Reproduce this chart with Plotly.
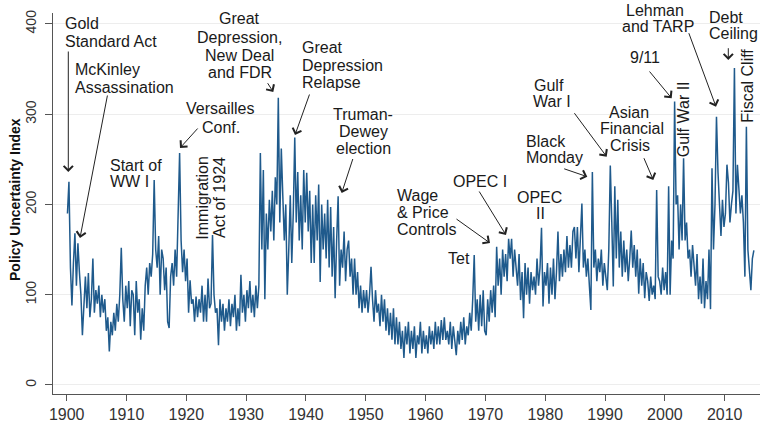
import plotly.graph_objects as go

# Quarterly readings of the policy uncertainty index (4 values per year)
epu_1900s = [190, 225, 130, 88, 135, 168, 110, 157, 125, 100, 55, 95, 120, 85, 124, 75,
             95, 140, 80, 105, 90, 110, 75, 100, 80, 95, 60, 75, 37, 70, 55, 80,
             60, 90, 70, 100, 152, 95, 70, 110]
epu_1910s = [85, 115, 65, 105, 100, 55, 115, 80, 95, 50, 85, 60, 110, 130, 100, 135,
             120, 145, 227, 150, 130, 165, 100, 150, 140, 105, 130, 70, 63, 120, 135, 110,
             150, 120, 175, 257, 160, 125, 150, 115]
epu_1920s = [140, 80, 116, 90, 95, 70, 98, 75, 95, 80, 110, 70, 100, 70, 118, 85,
             90, 166, 100, 80, 85, 44, 95, 70, 90, 60, 85, 70, 95, 65, 90, 75,
             100, 60, 85, 65, 122, 80, 100, 70]
epu_1930s = [105, 85, 115, 80, 100, 75, 110, 85, 110, 257, 150, 238, 95, 190, 150, 205,
             170, 215, 160, 230, 200, 318, 180, 262, 210, 160, 200, 100, 150, 210, 135, 190,
             274, 180, 236, 160, 210, 150, 238, 180]
epu_1940s = [235, 170, 215, 135, 200, 135, 210, 160, 222, 114, 200, 150, 190, 140, 205, 130,
             197, 120, 175, 96, 160, 209, 110, 150, 130, 170, 115, 150, 160, 120, 140, 100,
             140, 100, 125, 85, 110, 80, 105, 85]
epu_1950s = [105, 80, 100, 131, 95, 70, 105, 80, 90, 65, 100, 70, 95, 60, 85, 55,
             80, 50, 85, 45, 75, 45, 70, 40, 60, 30, 65, 45, 70, 35, 60, 40,
             65, 30, 55, 45, 70, 35, 60, 40]
epu_1960s = [55, 35, 65, 45, 60, 40, 70, 45, 65, 45, 72, 50, 75, 50, 60, 45,
             70, 40, 65, 50, 33, 60, 45, 70, 50, 75, 45, 65, 55, 80, 60, 95,
             144, 70, 95, 60, 100, 65, 105, 60]
epu_1970s = [55, 95, 70, 105, 80, 110, 75, 153, 110, 140, 100, 150, 120, 145, 115, 162,
             140, 162, 120, 150, 130, 110, 145, 94, 125, 74, 135, 100, 130, 90, 125, 105,
             120, 100, 140, 110, 130, 174, 87, 125]
epu_1980s = [110, 135, 90, 130, 100, 140, 95, 125, 170, 115, 145, 120, 150, 125, 165, 130,
             155, 130, 170, 175, 140, 175, 125, 160, 201, 130, 150, 120, 140, 110, 83, 236,
             130, 150, 115, 140, 125, 150, 110, 135]
epu_1990s = [120, 105, 150, 243, 180, 109, 220, 140, 205, 130, 170, 120, 160, 125, 150, 115,
             140, 171, 130, 155, 120, 150, 101, 140, 110, 135, 96, 125, 115, 93, 120, 100,
             110, 95, 216, 120, 115, 100, 130, 105]
epu_2000s = [125, 100, 220, 100, 160, 140, 314, 200, 210, 150, 200, 160, 251, 160, 180, 140,
             150, 120, 155, 130, 110, 145, 95, 120, 90, 140, 85, 115, 95, 150, 84, 240,
             150, 200, 297, 236, 190, 165, 205, 175]
epu_2010s = [190, 244, 224, 180, 200, 215, 351, 190, 244, 216, 190, 210, 180, 120, 286, 150,
             130, 105, 140, 149]

x_tick_years = [1900, 1910, 1920, 1930, 1940, 1950, 1960, 1970, 1980, 1990, 2000, 2010]
y_tick_values = [0, 100, 200, 300, 400]

values = (epu_1900s + epu_1910s + epu_1920s + epu_1930s + epu_1940s + epu_1950s +
          epu_1960s + epu_1970s + epu_1980s + epu_1990s + epu_2000s + epu_2010s)
years = [1900 + (i + 0.5) / 4 for i in range(len(values))]

# layout geometry (pixels) and axis ranges
W, H = 760, 427
L, R, T, B = 53, 760, 13, 394
X0, X1 = 1897.71, 2015.9
Y0, Y1 = -10, 412


def fx(px):
    return X0 + (px - L) / (R - L) * (X1 - X0)


def fy(py):
    return Y1 - (py - T) / (B - T) * (Y1 - Y0)


def px_paper(px):
    return (px - L) / (R - L)


def py_paper(py):
    return (B - py) / (B - T)


FONT = "Liberation Sans, Arial, sans-serif"
TXT = "#1a1a1a"

labels = [
    ("Gold", 62.7, 24, "left"),
    ("Standard Act", 62.7, 41, "left"),
    ("McKinley", 73.3, 70, "left"),
    ("Assassination", 73.3, 87, "left"),
    ("Versailles", 219.7, 108, "center"),
    ("Conf.", 220.8, 127, "center"),
    ("Start of", 107.5, 165, "left"),
    ("WW I", 107.5, 182, "left"),
    ("Great", 240, 19, "center"),
    ("Depression,", 240, 37, "center"),
    ("New Deal", 240, 55, "center"),
    ("and FDR", 240, 72, "center"),
    ("Great", 300, 48, "left"),
    ("Depression", 300, 65, "left"),
    ("Relapse", 300, 82, "left"),
    ("Truman-", 363, 114, "center"),
    ("Dewey", 363, 131, "center"),
    ("election", 363, 148.5, "center"),
    ("Wage", 395, 195, "left"),
    ("& Price", 395, 212, "left"),
    ("Controls", 395, 229, "left"),
    ("Tet", 459, 258, "center"),
    ("OPEC I", 479.5, 182, "center"),
    ("OPEC", 539, 197, "center"),
    ("II", 540, 213, "center"),
    ("Black", 524, 142, "left"),
    ("Monday", 524, 158, "left"),
    ("Gulf", 549, 86, "center"),
    ("War I", 552, 102, "center"),
    ("Asian", 629, 112, "center"),
    ("Financial", 632, 128, "center"),
    ("Crisis", 630, 145, "center"),
    ("9/11", 645, 57, "center"),
    ("Lehman", 655, 10, "center"),
    ("and TARP", 658, 26, "center"),
    ("Debt", 707, 17, "left"),
    ("Ceiling", 707, 33, "left"),
]
vertical_labels = [
    ("Immigration", 202.7, 198),
    ("Act of 1924", 220, 198),
    ("Gulf War II", 683.3, 119),
    ("Fiscal Cliff", 747.7, 86),
]
arrows = [
    (68.3, 50, 68.3, 172),
    (107.7, 94, 80, 238),
    (199, 127, 180, 148),
    (266.7, 81.7, 273.3, 92),
    (310, 93, 295, 135),
    (353.3, 157.5, 341.7, 193),
    (455, 218, 490, 243),
    (478.3, 190, 506, 235),
    (562.7, 168.3, 587.3, 176.7),
    (573.3, 111.7, 606.7, 156.7),
    (643.3, 156.7, 653.3, 180),
    (648.3, 70, 671.7, 98.3),
    (688.3, 31.7, 716, 106.7),
    (728.3, 46.7, 728.3, 60),
]

fig = go.Figure()
fig.add_trace(go.Scatter(x=years, y=values, mode="lines",
                         line=dict(color="#1f5a8c", width=1.5),
                         hoverinfo="skip", showlegend=False))

annotations = []
for text, px, py, al in labels:
    annotations.append(dict(x=px_paper(px), y=py_paper(py), xref="paper", yref="paper",
                            text=text, showarrow=False, xanchor=al, yanchor="middle",
                            font=dict(family=FONT, size=16, color=TXT)))
for text, px, py in vertical_labels:
    annotations.append(dict(x=px_paper(px), y=py_paper(py), xref="paper", yref="paper",
                            text=text, showarrow=False, textangle=-90,
                            xanchor="center", yanchor="middle",
                            font=dict(family=FONT, size=16, color=TXT)))
for tx, ty, hx, hy in arrows:
    annotations.append(dict(x=fx(hx), y=fy(hy), ax=fx(tx), ay=fy(ty),
                            xref="x", yref="y", axref="x", ayref="y", text="",
                            showarrow=True, arrowhead=4, arrowsize=1.8,
                            arrowwidth=1, arrowcolor="#222222"))
annotations.append(dict(x=px_paper(15), y=py_paper(200), xref="paper",
                        yref="paper", text="<b>Policy Uncertainty Index</b>",
                        showarrow=False, textangle=-90, xanchor="center",
                        yanchor="middle",
                        font=dict(family=FONT, size=14, color="#111111")))

fig.update_layout(
    width=W, height=H,
    margin=dict(l=L, r=W - R, t=T, b=H - B, pad=0),
    paper_bgcolor="white", plot_bgcolor="white",
    annotations=annotations,
    xaxis=dict(range=[X0, X1], tickvals=x_tick_years,
               ticktext=[str(y) for y in x_tick_years],
               ticks="outside", ticklen=6, tickcolor="#555555",
               showline=True, linecolor="#555555", linewidth=1,
               showgrid=False, zeroline=False, automargin=False,
               tickfont=dict(family=FONT, size=16, color="#333333")),
    yaxis=dict(range=[Y0, Y1], tickvals=y_tick_values,
               ticktext=[str(v) for v in y_tick_values], tickangle=-90,
               ticks="outside", ticklen=7, tickcolor="#555555",
               showline=True, linecolor="#555555", linewidth=1,
               showgrid=True, gridcolor="#ededed", gridwidth=1,
               zeroline=False, automargin=False, ticklabelstandoff=3,
               tickfont=dict(family=FONT, size=14, color="#333333")),
)

fig.write_html("out.html",
               config={"displayModeBar": False, "staticPlot": True},
               post_script="document.body.style.margin='0';"
                           "document.body.style.overflow='hidden';")
